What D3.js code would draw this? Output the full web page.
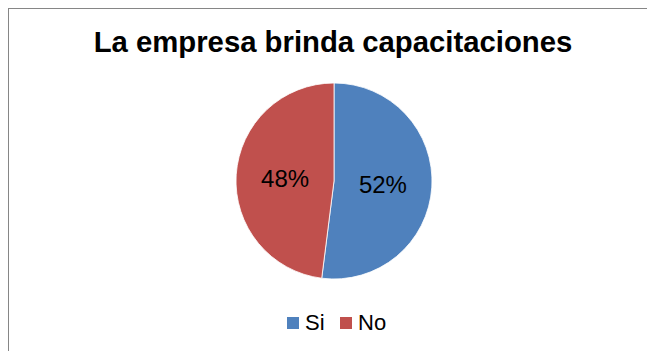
<!DOCTYPE html>
<html>
<head>
<meta charset="utf-8">
<script src="https://cdn.jsdelivr.net/npm/d3@7"></script>
<style>
  body { margin: 0; background: #fff; }
  svg { display: block; }
</style>
</head>
<body>
<div id="chart"></div>
<script>
// chart data
const categories = ["Si", "No"];
const values = [52, 48];
const colors = ["#4F81BD", "#C0504D"];
const title = "La empresa brinda capacitaciones";

const width = 647, height = 351;
const cx = 334, cy = 181, radius = 98;

const svg = d3.select("#chart")
    .append("svg")
        .attr("width", width)
        .attr("height", height);

// chart frame (only left and top edges are inside the picture)
svg.append("rect")
    .attr("x", 8.5)
    .attr("y", 8.5)
    .attr("width", width + 20)
    .attr("height", height + 20)
    .attr("fill", "#fff")
    .attr("stroke", "#868686")
    .attr("stroke-width", 1);

svg.append("text")
    .attr("x", 333)
    .attr("y", 52)
    .attr("text-anchor", "middle")
    .attr("font-family", "Liberation Sans, Arial, sans-serif")
    .attr("font-weight", "bold")
    .attr("font-size", 29.3)
    .text(title);

const pie = d3.pie().sort(null).value(d => d);
const arcs = pie(values);
const arc = d3.arc().innerRadius(0).outerRadius(radius);

const g = svg.append("g")
    .attr("transform", "translate(" + cx + "," + cy + ")");

g.selectAll("path")
    .data(arcs)
    .enter().append("path")
        .attr("d", arc)
        .attr("fill", (d, i) => colors[i])
        .attr("stroke", "#fff")
        .attr("stroke-width", 0.8);

g.selectAll("text")
    .data(arcs)
    .enter().append("text")
        .attr("transform", d => "translate(" + arc.centroid(d) + ")")
        .attr("text-anchor", "middle")
        .attr("dy", "0.36em")
        .attr("font-family", "Liberation Sans, Arial, sans-serif")
        .attr("font-size", 24)
        .text(d => d.data + "%");

// legend
const legendX = [287, 340];
const legend = svg.append("g");
categories.forEach(function(c, i) {
    legend.append("rect")
        .attr("x", legendX[i])
        .attr("y", 317)
        .attr("width", 12)
        .attr("height", 12)
        .attr("fill", colors[i]);
    legend.append("text")
        .attr("x", legendX[i] + 18)
        .attr("y", 329.5)
        .attr("font-family", "Liberation Sans, Arial, sans-serif")
        .attr("font-size", 22)
        .text(c);
});
</script>
</body>
</html>
